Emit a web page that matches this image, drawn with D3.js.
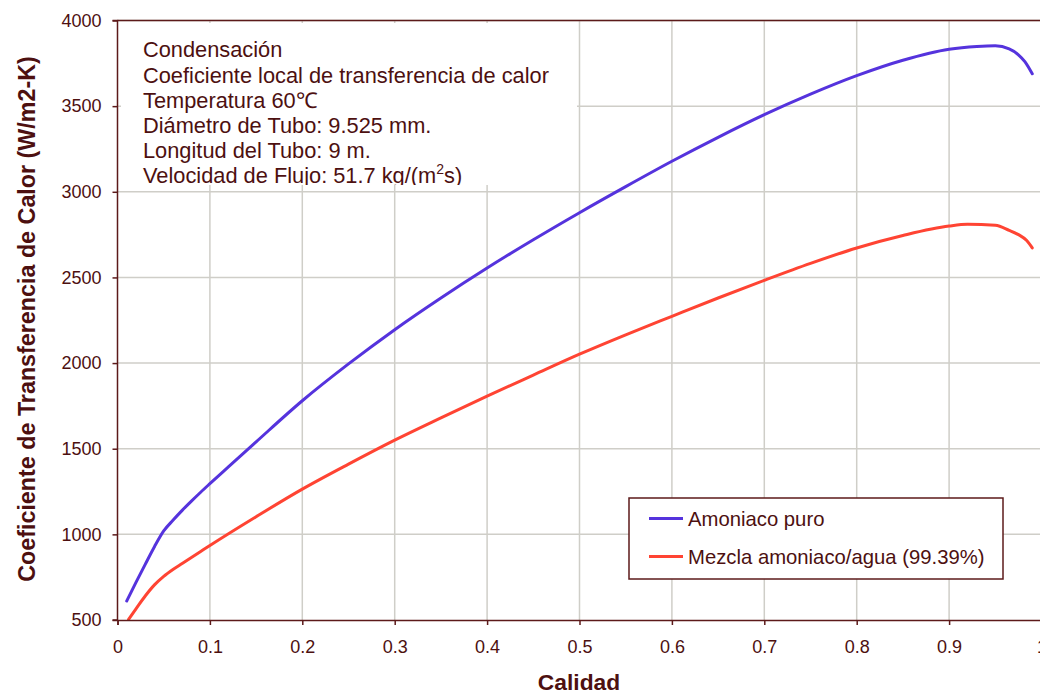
<!DOCTYPE html>
<html>
<head>
<meta charset="utf-8">
<script src="https://cdn.jsdelivr.net/npm/d3@7"></script>
<style>
  html, body { margin: 0; padding: 0; background: #fff; }
  svg { display: block; font-family: "Liberation Sans", Arial, sans-serif; }
</style>
</head>
<body>
<svg id="chart" width="1040" height="694"></svg>
<script>
// Vapor quality (x) and local heat transfer coefficient (W/m2-K)
const calidadPuro = [0.010, 0.020, 0.030, 0.040, 0.050, 0.060, 0.070, 0.080, 0.090, 0.100, 0.120, 0.150, 0.200, 0.250, 0.300, 0.350, 0.400, 0.450, 0.500, 0.550, 0.600, 0.650, 0.700, 0.750, 0.800, 0.850, 0.900, 0.930, 0.950, 0.965, 0.975, 0.982, 0.990];
const coefPuro    = [611, 720, 825, 928, 1020, 1082, 1140, 1194, 1246, 1296, 1394, 1540, 1780, 1995, 2195, 2380, 2555, 2720, 2878, 3030, 3178, 3318, 3450, 3570, 3678, 3768, 3832, 3848, 3852, 3835, 3800, 3760, 3689];

const calidadMezcla = [0.012, 0.020, 0.030, 0.040, 0.050, 0.060, 0.070, 0.080, 0.090, 0.100, 0.150, 0.200, 0.250, 0.300, 0.350, 0.400, 0.450, 0.500, 0.550, 0.600, 0.650, 0.700, 0.750, 0.800, 0.850, 0.900, 0.920, 0.950, 0.965, 0.975, 0.984, 0.990];
const coefMezcla    = [504, 565, 640, 705, 755, 795, 830, 865, 900, 935, 1103, 1264, 1410, 1550, 1680, 1807, 1930, 2052, 2165, 2273, 2380, 2483, 2582, 2672, 2745, 2800, 2810, 2804, 2775, 2750, 2715, 2672];

const xTicks = [0, 0.1, 0.2, 0.3, 0.4, 0.5, 0.6, 0.7, 0.8, 0.9, 1];
const yTicks = [500, 1000, 1500, 2000, 2500, 3000, 3500, 4000];

const seriesNames = ["Amoniaco puro", "Mezcla amoniaco/agua (99.39%)"];
const seriesColors = ["#5533dd", "#ff4433"];

const infoLines = [
  "Condensación",
  "Coeficiente local de transferencia de calor",
  "Temperatura 60℃",
  "Diámetro de Tubo: 9.525 mm.",
  "Longitud del Tubo: 9 m."
];

const textColor = "#4d1010";
const axisColor = "#5c1a1a";
const gridColor = "#cfcec8";

const svg = d3.select("#chart");
const plotLeft = 117.5, plotTop = 20.5, plotBottom = 620, plotRight = 1041.5;

const x = d3.scaleLinear().domain([0, 1]).range([plotLeft, plotRight]);
const y = d3.scaleLinear().domain([500, 4000]).range([plotBottom, plotTop]);

// grid
svg.append("g").selectAll("line").data(xTicks.slice(1)).join("line")
  .attr("x1", d => x(d)).attr("x2", d => x(d))
  .attr("y1", plotTop).attr("y2", plotBottom)
  .attr("stroke", gridColor).attr("stroke-width", 1.5);
svg.append("g").selectAll("line").data(yTicks.slice(1)).join("line")
  .attr("x1", plotLeft).attr("x2", plotRight)
  .attr("y1", d => y(d)).attr("y2", d => y(d))
  .attr("stroke", gridColor).attr("stroke-width", 1.5);

// info box (white background over grid, text clipped at its lower edge)
const box = { x: 121, y: 23, w: 456, h: 162 };
svg.append("defs").append("clipPath").attr("id", "infoClip")
  .append("rect").attr("x", box.x).attr("y", box.y).attr("width", box.w).attr("height", box.h);
svg.append("rect").attr("x", box.x).attr("y", box.y).attr("width", box.w).attr("height", box.h)
  .attr("fill", "#fff");
const info = svg.append("g").attr("clip-path", "url(#infoClip)")
  .attr("fill", textColor).style("font-size", "21.8px");
infoLines.forEach((t, i) => {
  info.append("text").attr("x", 143).attr("y", 57.3 + i * 25.2).text(t);
});
const vel = info.append("text").attr("x", 143).attr("y", 57.3 + 5 * 25.2);
vel.append("tspan").text("Velocidad de Flujo: 51.7 kg/(m");
vel.append("tspan").attr("dy", -9).style("font-size", "14px").text("2");
vel.append("tspan").attr("dy", 9).text("s)");

// series lines
const line = d3.line()
  .x(d => x(d[0])).y(d => y(d[1]))
  .curve(d3.curveMonotoneX);
const series = [d3.zip(calidadPuro, coefPuro), d3.zip(calidadMezcla, coefMezcla)];
series.forEach((s, i) => {
  svg.append("path").datum(s)
    .attr("d", line)
    .attr("fill", "none")
    .attr("stroke", seriesColors[i])
    .attr("stroke-width", 3)
    .attr("stroke-linejoin", "round")
    .attr("stroke-linecap", "round");
});

// plot border (top) and axes
svg.append("line").attr("x1", plotLeft).attr("x2", plotRight).attr("y1", plotTop).attr("y2", plotTop)
  .attr("stroke", axisColor).attr("stroke-width", 1.5);

const yAxis = svg.append("g").attr("transform", `translate(${plotLeft},0)`)
  .call(d3.axisLeft(y).tickValues(yTicks).tickSize(5).tickPadding(11).tickFormat(d3.format("d")));
const xAxis = svg.append("g").attr("transform", `translate(0,${plotBottom})`)
  .call(d3.axisBottom(x).tickValues(xTicks).tickSize(5).tickPadding(15)
    .tickFormat(d => d === 0 ? "0" : d === 1 ? "1" : d3.format(".1f")(d)));

[xAxis, yAxis].forEach(g => {
  g.select(".domain").attr("stroke", axisColor).attr("stroke-width", 1.5);
  g.selectAll(".tick line").attr("stroke", axisColor).attr("stroke-width", 1.5);
  g.selectAll(".tick text").attr("fill", textColor)
    .style("font-size", "18px").style("font-family", "\"Liberation Sans\", Arial, sans-serif");
});
yAxis.select(".domain").attr("d", `M-5,${y(500)}H0V${y(4000)}H-5`);

// axis titles
svg.append("text")
  .attr("transform", `translate(35,319) rotate(-90)`)
  .attr("text-anchor", "middle")
  .attr("fill", textColor)
  .style("font-size", "23.3px").style("font-weight", "bold")
  .text("Coeficiente de Transferencia de Calor (W/m2-K)");
svg.append("text")
  .attr("x", 579).attr("y", 690)
  .attr("text-anchor", "middle")
  .attr("fill", textColor)
  .style("font-size", "22.8px").style("font-weight", "bold")
  .text("Calidad");

// legend
const lg = svg.append("g");
lg.append("rect").attr("x", 629).attr("y", 498).attr("width", 374).attr("height", 81)
  .attr("fill", "#fff").attr("stroke", axisColor).attr("stroke-width", 1.5);
seriesNames.forEach((name, i) => {
  const cy = 518.5 + i * 38;
  lg.append("line").attr("x1", 649).attr("x2", 683).attr("y1", cy).attr("y2", cy)
    .attr("stroke", seriesColors[i]).attr("stroke-width", 3);
  lg.append("text").attr("x", 688).attr("y", cy + 7.3)
    .attr("fill", textColor).style("font-size", "20.3px").text(name);
});
</script>
</body>
</html>
